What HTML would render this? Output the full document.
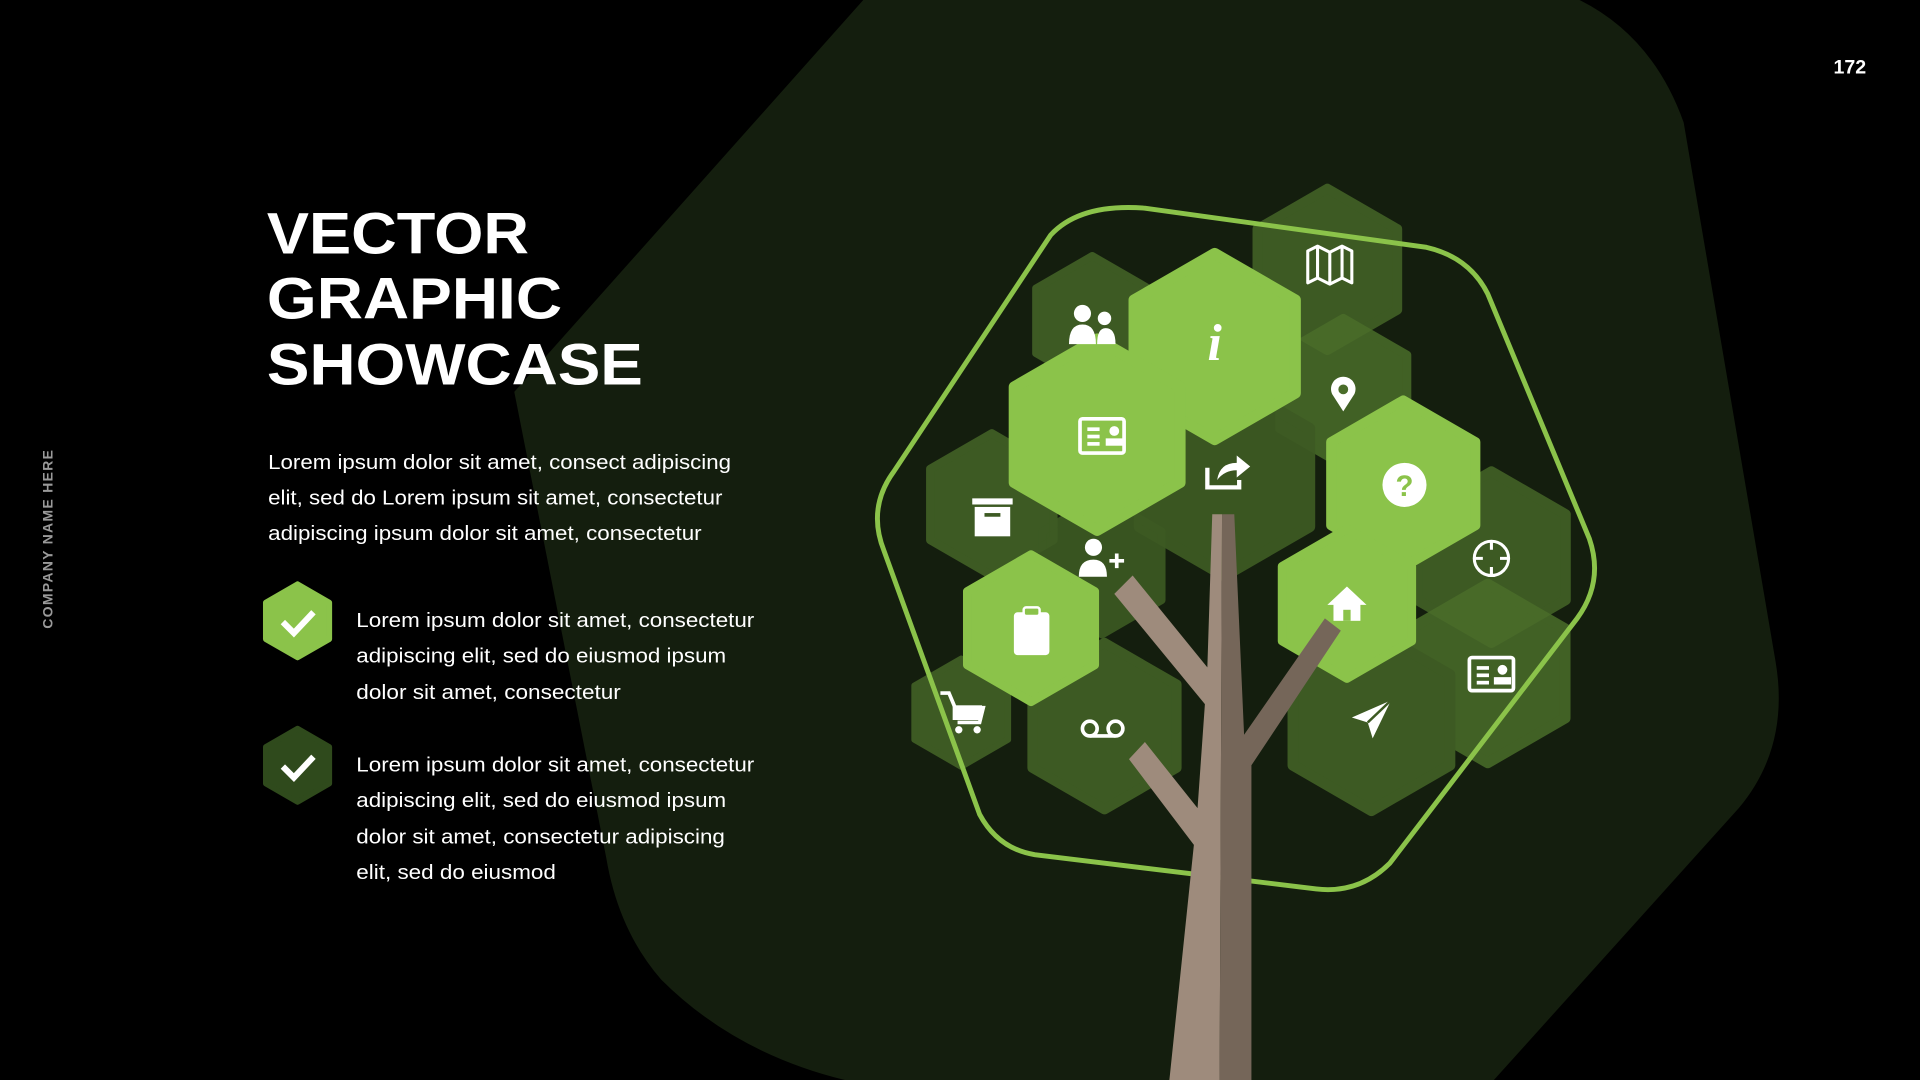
<!DOCTYPE html>
<html><head><meta charset="utf-8"><style>
html,body{margin:0;padding:0;background:#000;width:1920px;height:1080px;overflow:hidden}
svg{display:block}
</style></head><body>
<svg width="1920" height="1080" viewBox="0 0 1568 882" xmlns="http://www.w3.org/2000/svg">
<defs>
<polygon id="hx" points="0,-1 0.866,-0.5 0.866,0.5 0,1 -0.866,0.5 -0.866,-0.5"/>
</defs>
<rect width="1568" height="882" fill="#000"/>
<path d="M705,0 L1290,0 Q1350,30 1375,100 L1450,540 Q1462,610 1420,660 L1220,882 L690,882 Q600,860 540,800 Q505,760 495,700 L420,320 Z" fill="#141e0e"/>
<text x="1524" y="60" font-family="Liberation Sans,sans-serif" font-weight="bold" font-size="16" fill="#fff" text-anchor="end">172</text>
<text transform="translate(43,440) rotate(-90)" font-family="Liberation Sans,sans-serif" font-weight="bold" font-size="11.5" fill="#9a9a9a" text-anchor="middle" letter-spacing="1">COMPANY NAME HERE</text>
<g font-family="Liberation Sans,sans-serif" font-weight="bold" font-size="48" fill="#fff" lengthAdjust="spacingAndGlyphs">
<text x="218" y="207" textLength="214" lengthAdjust="spacingAndGlyphs">VECTOR</text>
<text x="218" y="260" textLength="241" lengthAdjust="spacingAndGlyphs">GRAPHIC</text>
<text x="218" y="314" textLength="307" lengthAdjust="spacingAndGlyphs">SHOWCASE</text>
</g>
<g font-family="Liberation Sans,sans-serif" font-size="16.5" fill="#fff">
<text x="219" y="383" textLength="378" lengthAdjust="spacingAndGlyphs">Lorem ipsum dolor sit amet, consect adipiscing</text>
<text x="219" y="412" textLength="371" lengthAdjust="spacingAndGlyphs">elit, sed do Lorem ipsum sit amet, consectetur</text>
<text x="219" y="441" textLength="354" lengthAdjust="spacingAndGlyphs">adipiscing ipsum dolor sit amet, consectetur</text>
<text x="291" y="512" textLength="325" lengthAdjust="spacingAndGlyphs">Lorem ipsum dolor sit amet, consectetur</text>
<text x="291" y="541" textLength="302" lengthAdjust="spacingAndGlyphs">adipiscing elit, sed do eiusmod ipsum</text>
<text x="291" y="571" textLength="216" lengthAdjust="spacingAndGlyphs">dolor sit amet, consectetur</text>
<text x="291" y="630" textLength="325" lengthAdjust="spacingAndGlyphs">Lorem ipsum dolor sit amet, consectetur</text>
<text x="291" y="659" textLength="302" lengthAdjust="spacingAndGlyphs">adipiscing elit, sed do eiusmod ipsum</text>
<text x="291" y="689" textLength="301" lengthAdjust="spacingAndGlyphs">dolor sit amet, consectetur adipiscing</text>
<text x="291" y="718" textLength="163" lengthAdjust="spacingAndGlyphs">elit, sed do eiusmod</text>
</g>
<use href="#hx" transform="translate(243,507) scale(30)" fill="#8bc34a" stroke="#8bc34a" stroke-width="0.15" stroke-linejoin="round"/>
<path d="M231,508 L240,517 L256,500" stroke="#fff" stroke-width="5" fill="none"/>
<use href="#hx" transform="translate(243,625) scale(30)" fill="#2f4a1c" stroke="#2f4a1c" stroke-width="0.15" stroke-linejoin="round"/>
<path d="M231,626 L240,635 L256,618" stroke="#fff" stroke-width="5" fill="none"/>

<g stroke-linejoin="round" stroke-width="0.12">
<use href="#hx" transform="translate(1084,220) scale(66)" fill="#3d5a23" stroke="#3d5a23"/>
<use href="#hx" transform="translate(892,262) scale(53)" fill="#3d5a23" stroke="#3d5a23"/>
<use href="#hx" transform="translate(1097,320) scale(60)" fill="#4a6d2a" stroke="#4a6d2a" opacity="0.85"/>
<use href="#hx" transform="translate(1000,390) scale(80)" fill="#3d5a23" stroke="#3d5a23" opacity="0.95"/>
<use href="#hx" transform="translate(810,412) scale(58)" fill="#3d5a23" stroke="#3d5a23"/>
<use href="#hx" transform="translate(900,462) scale(56)" fill="#3d5a23" stroke="#3d5a23" opacity="0.9"/>
<use href="#hx" transform="translate(1218,455) scale(70)" fill="#3d5a23" stroke="#3d5a23"/>
<use href="#hx" transform="translate(1215,550) scale(73)" fill="#4a6d2a" stroke="#4a6d2a" opacity="0.85"/>
<use href="#hx" transform="translate(785,582) scale(44)" fill="#3d5a23" stroke="#3d5a23"/>
<use href="#hx" transform="translate(902,593) scale(68)" fill="#3d5a23" stroke="#3d5a23"/>
<use href="#hx" transform="translate(1120,588) scale(74)" fill="#3d5a23" stroke="#3d5a23"/>
<use href="#hx" transform="translate(992,283) scale(76)" fill="#8bc34a" stroke="#8bc34a"/>
<use href="#hx" transform="translate(896,355) scale(78)" fill="#8bc34a" stroke="#8bc34a"/>
<use href="#hx" transform="translate(1146,395) scale(68)" fill="#8bc34a" stroke="#8bc34a"/>
<use href="#hx" transform="translate(842,513) scale(60)" fill="#8bc34a" stroke="#8bc34a"/>
<use href="#hx" transform="translate(1100,493) scale(61)" fill="#8bc34a" stroke="#8bc34a"/>
</g>
<path d="M730,385 L858,192 Q882,166 935,170 L1165,202 Q1200,210 1215,240 L1298,440 Q1310,475 1288,505 L1135,705 Q1110,730 1075,726 L845,698 Q815,693 800,665 L722,450 Q708,415 730,385 Z" fill="none" stroke="#8bc34a" stroke-width="4"/>
<polygon points="990,420 998,420 996,882 955,882 975,690 922,620 935,606 978,660 984,575 910,485 925,470 986,545" fill="#9e8b7c"/>
<polygon points="998,420 1008,420 1016,600 1082,505 1095,515 1022,625 1022,882 996,882" fill="#756659"/>
<g fill="#fff" stroke="none" font-family="Liberation Serif,serif">
<path d="M1068,205 L1076,201 L1086,206 L1096,201 L1104,205 L1104,231 L1096,227 L1086,232 L1076,227 L1068,231 Z" fill="none" stroke="#fff" stroke-width="2.5" stroke-linejoin="round"/>
<path d="M1076,201 V227 M1086,206 V232 M1096,201 V227" stroke="#fff" stroke-width="2.5"/>
<circle cx="884" cy="256" r="7"/><path d="M873,281 Q873,265 884,265 Q895,265 895,281 Z"/>
<circle cx="902" cy="260" r="5.5"/><path d="M896,281 Q896,268 903,268 Q911,268 911,281 Z"/>
<text x="992" y="294" font-size="42" font-style="italic" font-weight="bold" text-anchor="middle">i</text>
<path d="M1097,336 L1088,322 A10,10 0 1 1 1106,322 Z"/><circle cx="1097" cy="318" r="4" fill="#4a6d2a"/>
<rect x="882" y="342" width="36" height="28" rx="2" fill="none" stroke="#fff" stroke-width="3"/>
<rect x="888" y="349" width="10" height="3"/><rect x="888" y="355" width="10" height="3"/><rect x="888" y="361" width="10" height="3"/>
<circle cx="910" cy="352" r="4"/><rect x="903" y="358" width="14" height="6"/>
<path d="M986,382 V398 H1012 V392" fill="none" stroke="#fff" stroke-width="3.5"/>
<path d="M994,392 Q996,378 1010,378 V372 L1021,381 L1010,390 V384 Q1000,384 994,392 Z"/>
<circle cx="1147" cy="396" r="18"/>
<text x="1147" y="405" font-family="Liberation Sans,sans-serif" font-weight="bold" font-size="24" fill="#8bc34a" text-anchor="middle">?</text>
<rect x="794" y="407" width="33" height="5"/><rect x="796" y="414" width="29" height="24"/><rect x="804" y="419" width="13" height="3" fill="#3d5a23"/>
<circle cx="893" cy="447" r="7"/><path d="M881,471 Q881,457 893,457 Q904,457 904,471 Z"/>
<path d="M906,458 H918 M912,452 V464" stroke="#fff" stroke-width="3"/>
<circle cx="1218" cy="456" r="14" fill="none" stroke="#fff" stroke-width="2.5"/>
<path d="M1204,456 H1211 M1225,456 H1232 M1218,442 V449 M1218,463 V470" stroke="#fff" stroke-width="2.5"/>
<rect x="828" y="500" width="29" height="35" rx="3"/><rect x="836" y="496" width="13" height="7" rx="2" fill="#8bc34a" stroke="#fff" stroke-width="2"/>
<path d="M1084,494 L1100,479 L1116,494 Z"/><rect x="1089" y="492" width="22" height="15"/><rect x="1097" y="498" width="6" height="9" fill="#8bc34a"/>
<rect x="1200" y="537" width="36" height="27" rx="2" fill="none" stroke="#fff" stroke-width="3"/>
<rect x="1206" y="544" width="10" height="3"/><rect x="1206" y="550" width="10" height="3"/><rect x="1206" y="556" width="10" height="3"/>
<circle cx="1227" cy="547" r="4"/><rect x="1220" y="553" width="14" height="6"/>
<path d="M768,566 H775 L780,578 H803 L800,590 H782" fill="none" stroke="#fff" stroke-width="3"/>
<rect x="778" y="576" width="24" height="12"/>
<circle cx="783" cy="596" r="3"/><circle cx="798" cy="596" r="3"/>
<circle cx="890" cy="595" r="6" fill="none" stroke="#fff" stroke-width="3"/><circle cx="911" cy="595" r="6" fill="none" stroke="#fff" stroke-width="3"/><path d="M890,601 H911" stroke="#fff" stroke-width="3"/>
<path d="M1136,572 L1104,586 L1117,590 L1121,603 Z"/>
<path d="M1136,572 L1117,590" stroke="#3d5a23" stroke-width="2"/>
</g>
</svg>
</body></html>
